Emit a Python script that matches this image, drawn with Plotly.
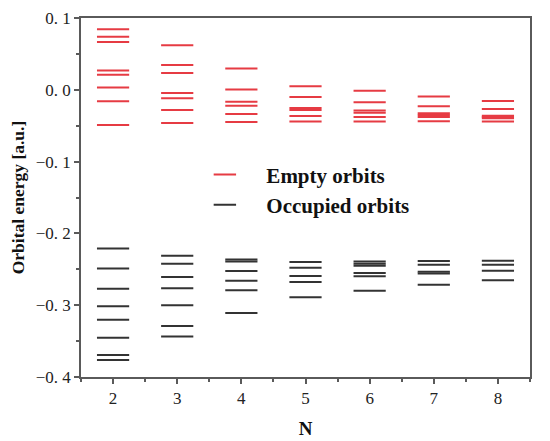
"""Orbital energy levels vs N - level diagram."""

import plotly.graph_objects as go

# === Data (a.u.) ===
N_VALUES = [2, 3, 4, 5, 6, 7, 8]

EMPTY_LEVELS = {
    2: [0.0845, 0.0740, 0.0665, 0.0269, 0.0208, 0.0033, -0.0161, -0.0489],
    3: [0.0619, 0.0346, 0.0235, -0.0046, -0.0119, -0.0281, -0.0461],
    4: [0.0296, 0.0005, -0.0166, -0.0222, -0.0337, -0.0447],
    5: [0.0051, -0.0101, -0.0253, -0.0281, -0.0364, -0.0443],
    6: [-0.0014, -0.0175, -0.0290, -0.0320, -0.0378, -0.0443],
    7: [-0.0092, -0.0230, -0.0325, -0.0350, -0.0378, -0.0438],
    8: [-0.0157, -0.0267, -0.0360, -0.0380, -0.0396, -0.0443],
}

OCCUPIED_LEVELS = {
    2: [-0.2210, -0.2488, -0.2770, -0.3014, -0.3204, -0.3453, -0.3693, -0.3762],
    3: [-0.2313, -0.2424, -0.2608, -0.2765, -0.3000, -0.3291, -0.3435],
    4: [-0.2365, -0.2390, -0.2525, -0.2659, -0.2793, -0.3107],
    5: [-0.2400, -0.2479, -0.2594, -0.2677, -0.2889],
    6: [-0.2391, -0.2424, -0.2451, -0.2553, -0.2598, -0.2798],
    7: [-0.2386, -0.2438, -0.2534, -0.2557, -0.2715],
    8: [-0.2382, -0.2438, -0.2521, -0.2654],
}

Y_TICKS = [0.1, 0.0, -0.1, -0.2, -0.3, -0.4]
Y_TICK_TEXT = ["0. 1", "0. 0", "\u22120. 1", "\u22120. 2", "\u22120. 3", "\u22120. 4"]

RED = "#e63b43"
BLACK = "#333333"
AXIS = "#5a5a5a"
SERIF = "Liberation Serif, Times New Roman, serif"


def flatten(levels):
    xs, ys = [], []
    for n in N_VALUES:
        for e in levels[n]:
            xs.append(n)
            ys.append(e)
    return xs, ys


fig = go.Figure()

for name, levels, color in [
    ("Empty orbits", EMPTY_LEVELS, RED),
    ("Occupied orbits", OCCUPIED_LEVELS, BLACK),
]:
    xs, ys = flatten(levels)
    fig.add_trace(go.Scatter(
        x=xs,
        y=ys,
        mode="markers",
        name=f"<b>{name}</b>",
        marker=dict(symbol="line-ew", size=23, line=dict(color=color, width=2)),
    ))

axis_common = dict(
    showline=True,
    linecolor=AXIS,
    linewidth=1.5,
    mirror=True,
    showgrid=False,
    zeroline=False,
    automargin=False,
    ticks="outside",
    ticklen=5,
    tickwidth=1.5,
    tickcolor=AXIS,
    ticklabeloverflow="allow",
    tickfont=dict(family=SERIF, size=17, color="#222"),
)

# page body adds 8px offset, margins compensate for it
fig.update_layout(
    width=550,
    height=441,
    paper_bgcolor="#ffffff",
    plot_bgcolor="#ffffff",
    margin=dict(l=73, r=28, t=10, b=72),
    xaxis=dict(
        range=[1.5, 8.5],
        tickvals=N_VALUES,
        minor=dict(dtick=0.5, tick0=1.5, ticks="outside", ticklen=3, tickcolor=AXIS),
        title=dict(text="<b>N</b>", font=dict(family=SERIF, size=19, color="#111"), standoff=15),
        **axis_common,
    ),
    yaxis=dict(
        range=[-0.4, 0.1],
        tickvals=Y_TICKS,
        ticktext=Y_TICK_TEXT,
        minor=dict(dtick=0.05, tick0=0.0, ticks="outside", ticklen=3, tickcolor=AXIS),
        title=dict(text="<b>Orbital energy [a.u.]</b>", font=dict(family=SERIF, size=17.5, color="#111"), standoff=12),
        **axis_common,
    ),
    legend=dict(
        x=0.228,
        y=0.62,
        xanchor="left",
        yanchor="top",
        bgcolor="rgba(0,0,0,0)",
        itemwidth=73,
        font=dict(family=SERIF, size=21, color="#111"),
    ),
    font=dict(family=SERIF),
)

fig.write_html("out.html")
